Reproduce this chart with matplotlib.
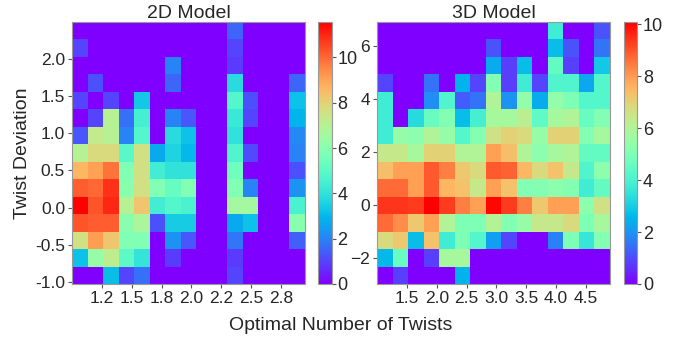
import numpy as np
import matplotlib
matplotlib.use('Agg')
import matplotlib.pyplot as plt

plt.rcParams['font.family'] = ['Liberation Sans', 'DejaVu Sans']
plt.rcParams['text.color'] = '#262626'
plt.rcParams['axes.labelcolor'] = '#262626'
plt.rcParams['xtick.color'] = '#262626'
plt.rcParams['ytick.color'] = '#262626'

# bin edges of the two histograms
x2d = np.linspace(1.0, 2.95, 16)
y2d = np.linspace(-1.03, 2.5, 16)
x3d = np.linspace(1.0, 4.9, 16)
y3d = np.linspace(-3.0, 6.9, 16)

# counts, top row first
counts_2d = [
    [0, 0, 0, 0, 0, 0, 0, 0, 0, 0, 1.5, 0, 0, 0, 0],
    [1, 0, 0, 0, 0, 0, 0, 0, 0, 0, 1, 0, 0, 0, 0],
    [0, 0, 0, 0, 0, 0, 2, 0, 0, 0, 0.9, 0, 0, 0, 0],
    [0, 1.2, 0, 0, 0, 0, 1.5, 0, 0, 0, 3.8, 0, 0, 0, 1.5],
    [1, 0, 1, 0, 3.3, 0, 0, 0, 0, 0, 4.8, 1.2, 0, 0, 3.2],
    [0, 1, 7, 1.7, 4.5, 0, 2, 1.3, 0, 0, 4.2, 1, 0, 0, 2.9],
    [1.3, 7.3, 7, 2, 4.8, 0, 3.8, 3.2, 0, 0, 4, 0, 0, 0, 2.1],
    [7, 7.8, 7.8, 4.9, 7.6, 2.7, 3.6, 3, 0, 0, 4.7, 1.1, 0, 0, 2],
    [8.6, 9, 9.8, 5.8, 7.6, 4.4, 4, 4, 0, 0, 5.4, 0, 0, 0, 1.2],
    [10.2, 10, 10.8, 6, 7.6, 5.8, 5.2, 5.8, 0, 0, 5.8, 2, 0, 0, 2.3],
    [11.56, 10.3, 11, 7, 8.3, 4.4, 4.8, 4.6, 0, 0, 6.6, 6.6, 0, 0, 4.6],
    [10.3, 10.2, 10.2, 6, 6.8, 1.2, 3.4, 3.4, 0, 0, 2.7, 3.2, 0, 0, 6],
    [7.6, 9.1, 8.3, 5.8, 5.8, 0, 2.3, 1.3, 0, 0, 1.8, 0, 0, 0, 1.4],
    [3.2, 6.3, 7.2, 5, 4.1, 0, 0.9, 0, 0, 0, 0.9, 0, 0, 0, 0],
    [0, 0, 3.1, 1, 1.7, 0, 0, 0, 0, 0, 1, 0, 0, 0, 0],
]

counts_3d = [
    [0, 0, 0, 0, 0, 0, 0, 0, 0, 0, 0, 3.8, 0, 0, 1.1],
    [0, 0, 0, 0, 0, 0, 0, 1.1, 0, 0, 0, 2.7, 1.1, 0, 1.5],
    [0, 0, 0, 0, 0, 0, 0, 2.4, 0.8, 2.7, 0, 4.5, 0.8, 0, 2.9],
    [0.9, 0, 0, 1.5, 0, 2.5, 0.9, 5.1, 0.8, 3.8, 0.9, 4.1, 4.1, 2.3, 4.2],
    [3.8, 0, 0, 1.9, 4.1, 1.2, 1.5, 6, 2, 5.4, 2.4, 5.4, 5, 4.2, 4.2],
    [3.8, 0, 3.3, 4.6, 5.1, 2.7, 3.9, 5.8, 5.8, 6.2, 4.4, 5.8, 6, 4.6, 5.1],
    [3.8, 5.5, 5.3, 6, 5.5, 4.2, 5.1, 6.6, 7, 6.8, 5.5, 7, 7, 5.1, 5.8],
    [6.4, 6.4, 5.8, 7, 7, 6, 6, 7.9, 7.4, 6, 5.3, 5.8, 6, 4.5, 4.5],
    [7.4, 7.9, 7.9, 8.9, 8.4, 7.2, 6.8, 8.9, 8.8, 7.5, 6.8, 7.3, 6.4, 4.1, 5.3],
    [8.7, 8.7, 7.9, 8.9, 7.5, 7.3, 6.4, 7.9, 7.3, 5.1, 5.1, 5.3, 5.1, 3.8, 4.5],
    [9.4, 9.4, 9.3, 10.08, 9.3, 8.4, 7.9, 10, 9.3, 8.4, 7.2, 7.9, 7.9, 5.3, 6.6],
    [8.7, 8.2, 7.2, 7.9, 6, 5, 5, 6.1, 5.1, 5.5, 6.4, 6.4, 6.8, 5, 5.8],
    [6.8, 7.2, 2.7, 7.3, 3.8, 5, 4.2, 2.2, 0.9, 0, 0, 1.7, 5, 3.6, 5.1],
    [2.6, 4.6, 0, 0.8, 5.8, 5.8, 0, 0, 0, 0, 0, 0, 0, 0, 0],
    [0, 0.8, 0, 0, 0, 2.5, 0, 0, 0, 0, 0, 0, 0, 0, 0],
]

ticks_2d = [1.25, 1.5, 1.75, 2.0, 2.25, 2.5, 2.75]
ticks_3d = [1.5, 2.0, 2.5, 3.0, 3.5, 4.0, 4.5]

fig = plt.figure(figsize=(6.89, 3.37), dpi=100)
ax1 = fig.add_axes([0.1045, 0.1573, 0.338, 0.7774])
cax1 = fig.add_axes([0.4615, 0.1573, 0.0203, 0.7774])
ax2 = fig.add_axes([0.5472, 0.1573, 0.338, 0.7774])
cax2 = fig.add_axes([0.9057, 0.1573, 0.0195, 0.7774])

panels = [
    (ax1, cax1, x2d, y2d, counts_2d, '2D Model', ticks_2d),
    (ax2, cax2, x3d, y3d, counts_3d, '3D Model', ticks_3d),
]

for ax, cax, xe, ye, c, title, xt in panels:
    z = np.flipud(np.array(c))
    m = ax.pcolormesh(xe, ye, z, cmap='rainbow', vmin=0, vmax=z.max())
    ax.set_xlim(xe[0], xe[-1])
    ax.set_ylim(ye[0], ye[-1])
    ax.set_title(title, fontsize=14, pad=2)
    ax.set_xticks(xt)
    ax.xaxis.set_major_formatter(matplotlib.ticker.FormatStrFormatter('%.1f'))
    ax.tick_params(labelsize=12.5, length=3, width=0.8, color='#555555', pad=2)
    for s in ax.spines.values():
        s.set_color('#999999')
    cb = fig.colorbar(m, cax=cax)
    cb.outline.set_edgecolor('#999999')
    cb.ax.tick_params(labelsize=13, length=3, width=0.8, color='#555555', pad=1)
    cb.set_ticks([0, 2, 4, 6, 8, 10])

ax1.set_yticks([-1.0, -0.5, 0.0, 0.5, 1.0, 1.5, 2.0])
ax1.yaxis.set_major_formatter(matplotlib.ticker.FormatStrFormatter('%.1f'))
ax2.set_yticks([-2, 0, 2, 4, 6])

ax1.set_ylabel('Twist Deviation', fontsize=14, labelpad=3)
fig.text(0.495, 0.035, 'Optimal Number of Twists', ha='center', va='center', fontsize=14)

fig.savefig('out.png', dpi=100)
